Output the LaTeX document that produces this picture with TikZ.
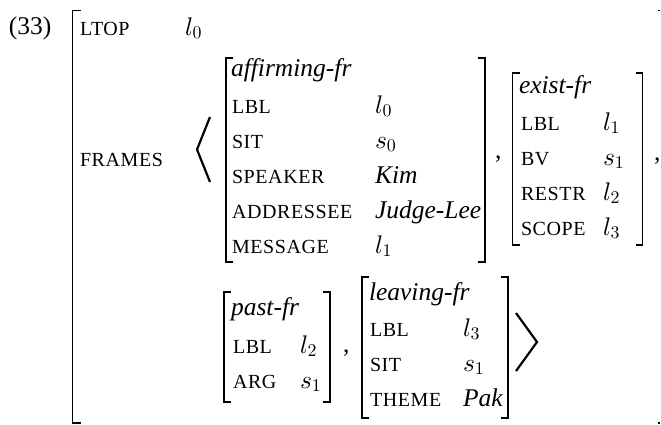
\RequirePackage{fix-cm}
\documentclass[tikz,border=0pt]{standalone}
\usepackage{fontspec}
\setmainfont{Liberation Serif}
\newfontfamily\capsfont[LetterSpace=3]{Liberation Serif}
\DeclareFontShape{OML}{cmm}{m}{it}{<->cmmi10}{}
\DeclareFontShape{OT1}{cmr}{m}{n}{<->cmr10}{}

\begin{document}
\begin{tikzpicture}[x=1pt, y=-1pt, line width=1.8pt,
	every node/.style={inner sep=0pt, outer sep=0pt, anchor=base west, font=\fontsize{25.5}{30}\selectfont},
	feat/.style={font=\fontsize{20}{24}\selectfont\capsfont},
	avm/.style={anchor=center, minimum width=#1},
	angle/.style={line width=2.2pt}]
	\useasboundingbox (0,0) rectangle (661,424);
	\node (exNum) at (9,34) {(33)};
	% outer matrix
	\node[avm=587pt, minimum height=412.5pt] (outer) at (366,216.75) {};
	\draw ([xshift=8pt]outer.north west) -- (outer.north west) -- (outer.south west) -- ([xshift=8pt]outer.south west);
	\draw[line width=1.5pt] ([xshift=-2pt]outer.north east) -- (outer.north east);
	\draw[line width=1.5pt] ([xshift=-2pt]outer.south east) -- (outer.south east);
	\node[feat] (ltopText) at (80,35) {LTOP};
	\node (ltopVal) at (185,35) {$l_0$};
	\node[feat] (framesText) at (80,166) {FRAMES};
	\draw[angle] (210,117) -- (197,149.5) -- (210,182);
	% affirming-fr
	\node[avm=259pt, minimum height=204pt] (affirming) at (355.5,160) {};
	\draw ([xshift=7pt]affirming.north west) -- (affirming.north west) -- (affirming.south west) -- ([xshift=7pt]affirming.south west);
	\draw ([xshift=-7pt]affirming.north east) -- (affirming.north east) -- (affirming.south east) -- ([xshift=-7pt]affirming.south east);
	\node (affType) at (231,76) {\textit{affirming-fr}};
	\node[feat] (affLbl) at (232,113) {LBL};
	\node (affLblVal) at (375,113) {$l_0$};
	\node[feat] (affSit) at (232,148) {SIT};
	\node (affSitVal) at (375,148) {$s_0$};
	\node[feat] (affSpeaker) at (232,183) {SPEAKER};
	\node (affSpeakerVal) at (375,183) {\textit{Kim}};
	\node[feat] (affAddressee) at (232,218) {ADDRESSEE};
	\node (affAddresseeVal) at (375,218) {\textit{Judge-Lee}};
	\node[feat] (affMessage) at (232,253) {MESSAGE};
	\node (affMessageVal) at (375,253) {$l_1$};
	\node (commaA) at (495,158) {,};
	% exist-fr
	\node[avm=130pt, minimum height=172pt] (exist) at (577.5,159) {};
	\draw ([xshift=7pt]exist.north west) -- (exist.north west) -- (exist.south west) -- ([xshift=7pt]exist.south west);
	\draw ([xshift=-7pt]exist.north east) -- (exist.north east) -- (exist.south east) -- ([xshift=-7pt]exist.south east);
	\node (exType) at (519,93) {\textit{exist-fr}};
	\node[feat] (exLbl) at (521,130) {LBL};
	\node (exLblVal) at (603,130) {$l_1$};
	\node[feat] (exBv) at (521,165) {BV};
	\node (exBvVal) at (603,165) {$s_1$};
	\node[feat] (exRestr) at (521,200) {RESTR};
	\node (exRestrVal) at (603,200) {$l_2$};
	\node[feat] (exScope) at (521,235) {SCOPE};
	\node (exScopeVal) at (603,235) {$l_3$};
	\node (commaB) at (654,160) {,};
	% past-fr
	\node[avm=106pt, minimum height=110pt] (past) at (277,347) {};
	\draw ([xshift=7pt]past.north west) -- (past.north west) -- (past.south west) -- ([xshift=7pt]past.south west);
	\draw ([xshift=-7pt]past.north east) -- (past.north east) -- (past.south east) -- ([xshift=-7pt]past.south east);
	\node (pastType) at (231,315) {\textit{past-fr}};
	\node[feat] (pastLbl) at (233,353) {LBL};
	\node (pastLblVal) at (300,353) {$l_2$};
	\node[feat] (pastArg) at (233,388) {ARG};
	\node (pastArgVal) at (300,388) {$s_1$};
	\node (commaC) at (343,352) {,};
	% leaving-fr
	\node[avm=146pt, minimum height=141pt] (leaving) at (435,347.5) {};
	\draw ([xshift=7pt]leaving.north west) -- (leaving.north west) -- (leaving.south west) -- ([xshift=7pt]leaving.south west);
	\draw ([xshift=-7pt]leaving.north east) -- (leaving.north east) -- (leaving.south east) -- ([xshift=-7pt]leaving.south east);
	\node (leavType) at (369,300) {\textit{leaving-fr}};
	\node[feat] (leavLbl) at (370,336) {LBL};
	\node (leavLblVal) at (463,336) {$l_3$};
	\node[feat] (leavSit) at (370,371) {SIT};
	\node (leavSitVal) at (463,371) {$s_1$};
	\node[feat] (leavTheme) at (370,406) {THEME};
	\node (leavThemeVal) at (463,406) {\textit{Pak}};
	\draw[angle] (516,313) -- (537,342) -- (516,371);
\end{tikzpicture}
\end{document}
